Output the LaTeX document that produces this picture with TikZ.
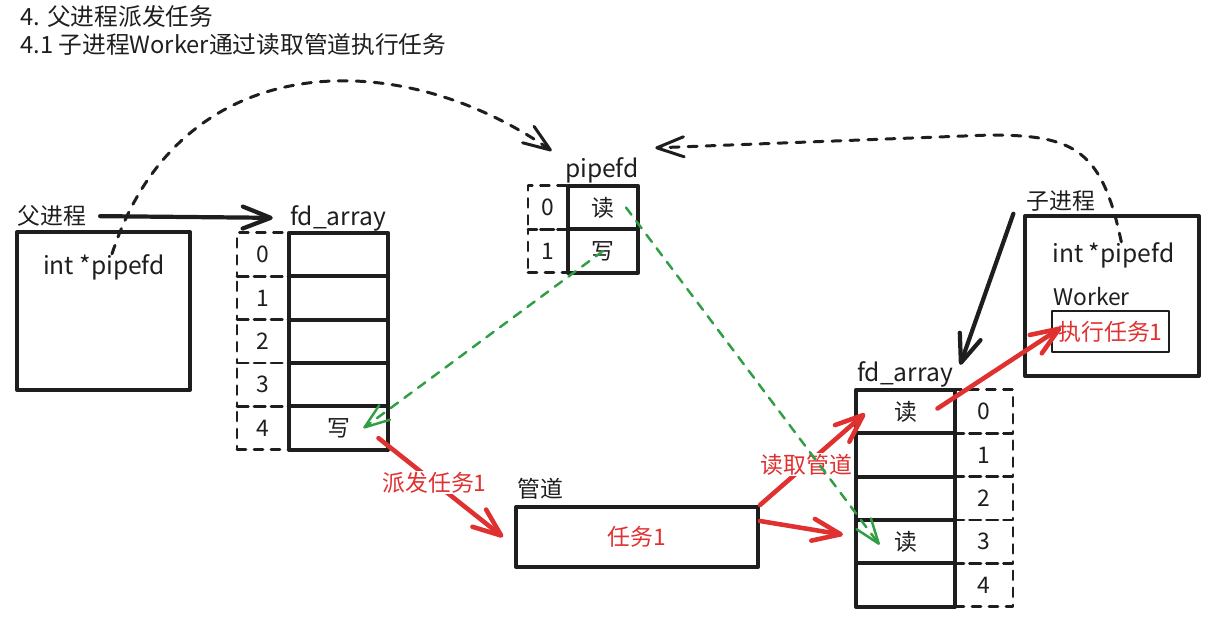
\documentclass[tikz,border=0pt]{standalone}
\definecolor{inkblack}{HTML}{1E1E1E}
\definecolor{inkred}{HTML}{E03131}
\definecolor{inkgreen}{HTML}{2F9E44}
\usepackage{fontspec}
\setmainfont{Noto Sans CJK SC}
\usepackage{tikz}
\usetikzlibrary{arrows.meta,positioning,calc}

\newcommand{\lblfont}{\fontsize{13}{15}\selectfont}
\newcommand{\codefont}{\fontsize{14}{16}\selectfont}
\newcommand{\titlefont}{\fontsize{13.5}{16}\selectfont}

\tikzset{
  box/.style={draw=inkblack, line width=2.3pt, inner sep=0pt},
  cell/.style={box, minimum height=8.68mm, font=\lblfont, text=inkblack},
  idxcell/.style={draw=inkblack, line width=1.5pt, dash pattern=on 1.8mm off 1.6mm, minimum height=8.68mm, inner sep=0pt, font=\lblfont, text=inkblack},
  taskbox/.style={draw=inkblack, line width=1pt, minimum width=23.4mm, minimum height=8.2mm, inner sep=0pt, font=\lblfont, text=inkred},
  lbl/.style={font=\lblfont, text=inkblack, inner sep=0pt},
  code/.style={font=\codefont, text=inkblack, inner sep=0pt},
  title/.style={font=\titlefont, text=inkblack, inner sep=0pt},
  link/.style={draw=inkblack, line width=2.4pt, -{Straight Barb[round,length=5.6mm,width=4.4mm]}},
  dlink/.style={draw=inkblack, line width=1.7pt, dash pattern=on 1.8mm off 1.8mm, -{Straight Barb[round,length=5.4mm,width=4mm]}},
  glink/.style={draw=inkgreen, line width=1.4pt, dash pattern=on 1.8mm off 1.6mm, -{Straight Barb[round,length=5mm,width=3.6mm]}},
  rlink/.style={draw=inkred, line width=2.6pt, -{Straight Barb[round,length=5.6mm,width=4.4mm]}},
  rlbl/.style={font=\lblfont, text=inkred, fill=white, inner sep=0.5pt},
}

\begin{document}
\begin{tikzpicture}[x=0.2mm, y=-0.2mm, line cap=round, line join=round]
\useasboundingbox (0,0) rectangle (1222,638);

% headings
\node[title, anchor=west] (head1) at (20,16) {4. 父进程派发任务};
\node[title, anchor=west] (head2) at (20,44) {4.1 子进程Worker通过读取管道执行任务};

% parent process
\node[lbl] (plabel) at (52,216) {父进程};
\node[box, minimum width=34.6mm, minimum height=31.6mm] (pproc) at (103.5,311) {};
\node[code] (pptr) at (104,267) {int *pipefd};

% parent fd_array
\node[code] (pfdlabel) at (338,218) {fd\_array};
\foreach \i/\t in {0/,1/,2/,3/,4/写} {
  \node[idxcell, minimum width=10.4mm] (pidx\i) at (263,{254.5+43.4*\i}) {\i};
  \node[cell, minimum width=19.8mm] (pfd\i) at (338.5,{254.5+43.4*\i}) {\t};
}

% pipefd
\node[code] (pplabel) at (602,170) {pipefd};
\foreach \i/\t in {0/读,1/写} {
  \node[idxcell, minimum width=8mm] (ppidx\i) at (548,{207.5+43.5*\i}) {\i};
  \node[cell, minimum width=14mm] (pp\i) at (603,{207.5+43.5*\i}) {\t};
}

% pipe
\node[lbl] (pipelabel) at (540,489) {管道};
\node[box, minimum width=48.4mm, minimum height=12mm, font=\lblfont, text=inkred] (pipe) at (637,537) {任务1};

% child fd_array
\node[code] (cfdlabel) at (905,374) {fd\_array};
\foreach \i/\t in {0/读,1/,2/,3/读,4/} {
  \node[idxcell, minimum width=11.6mm] (cidx\i) at (984,{411.5+43.4*\i}) {\i};
  \node[cell, minimum width=19.8mm] (cfd\i) at (905.5,{411.5+43.4*\i}) {\t};
}

% child process
\node[lbl] (clabel) at (1061,201) {子进程};
\node[box, minimum width=34.8mm, minimum height=32mm] (cproc) at (1112,296) {};
\node[code, anchor=west] (cptr) at (1052,255) {int *pipefd};
\node[lbl, anchor=west] (worker) at (1053,297) {Worker};
\node[taskbox] (task) at (1110.5,331.5) {执行任务1};

% black links
\draw[link, shorten <=2.7mm, shorten >=3.4mm] (plabel.east) -- (pfdlabel.west);
\draw[link] ($(clabel.south west)+(-13,2)$) -- ($(cfdlabel.north east)+(7,4)$);
\draw[dlink] ($(pptr.north)+(8,0)$) .. controls (180,45) and (400,45) .. ($(pplabel.north west)+(-13,-6)$);
\draw[dlink] ($(cptr.north)+(8,0)$) .. controls (1102,150) and (1075,135) .. (990,135) -- ($(pplabel.north east)+(16,-9)$);

% red links
\draw[rlink] ($(pfd4.center)+(40,10)$) -- node[rlbl, pos=0.45] {派发任务1} ($(pipe.west)+(-11,0)$);
\draw[rlink] (pipe.north east) -- node[rlbl, pos=0.44] {读取管道} ($(cfd0.west)+(11,2)$);
\draw[rlink] ($(pipe.east)+(0,-16)$) -- ($(cfd3.west)+(-11,-7)$);
\draw[rlink] ($(cfd0.center)+(32,-3)$) -- ($(task.west)+(10,-4)$);

% green links
\draw[glink] (pp1.center) -- ($(pfd4.center)+(25,0)$);
\draw[glink] ($(pp0.center)+(23,0)$) -- ($(cfd3.center)+(-26,3)$);
\end{tikzpicture}
\end{document}
